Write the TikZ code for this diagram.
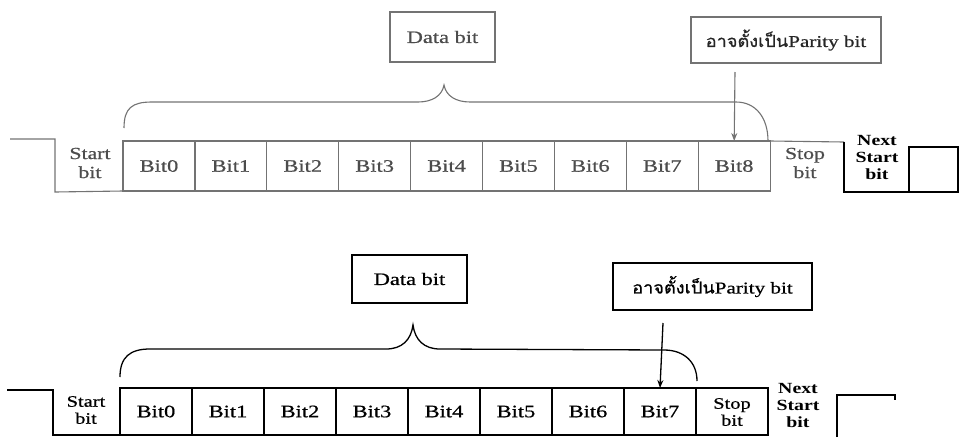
\documentclass[tikz,border=0pt]{standalone}
\usepackage{fontspec}
\setmainfont{Liberation Serif}[FakeStretch=1.28]
\newfontfamily\scanfont{Liberation Serif}[FakeStretch=1.28,FakeBold=0.7]
\newfontfamily\latinfont{Liberation Serif}[FakeStretch=1.28,FakeBold=0.7]
\newfontfamily\thaifont[Script=Thai,FakeStretch=1.1,FakeBold=0.7]{Loma}
\usetikzlibrary{arrows.meta}
\definecolor{tgline}{gray}{0.45}
\definecolor{tgtext}{gray}{0.30}
\begin{document}
\begin{tikzpicture}[x=1pt,y=-1pt,
  txt/.style={font=\scanfont\fontsize{17}{19}\selectfont, inner sep=0pt, align=center},
  nsb/.style={font=\fontsize{15.5}{17}\selectfont\bfseries, inner sep=0pt, align=center},
  bitbox/.style={draw, rectangle, anchor=north west, minimum width=72pt, inner sep=0pt,
                 outer sep=0pt, font=\scanfont\fontsize{17.5}{19}\selectfont},
  topbox/.style={bitbox, draw=tgline, text=tgtext, line width=1.1pt, minimum height=50pt},
  botbox/.style={bitbox, draw=black, line width=1.3pt, minimum height=47pt},
  callout/.style={draw, rectangle, anchor=north west, inner sep=0pt, outer sep=0pt,
                  font=\scanfont\fontsize{17.5}{19}\selectfont},
  topln/.style={draw=tgline, line width=1.1pt},
  botln/.style={draw=black, line width=1.3pt},
  tip/.style={-{Stealth[length=8pt,width=6pt]}},
]
\useasboundingbox (0,0) rectangle (961,437);

% ================= TOP (grey) =================
\foreach \i in {0,...,8}{
  \node[topbox] (b\i) at ({123+71.9*\i},141) {Bit\i};
}
\node[txt, text=tgtext] (tstart) at (90,163) {Start\\bit};
\node[txt, text=tgtext] (tstop) at (805,163) {Stop\\bit};
\node[nsb] (tnext) at (877,157) {Next\\Start\\bit};

\coordinate (tw0) at (10,139);
\coordinate (tw1) at (55,139);
\coordinate (tw2) at (55,192);
\draw[topln] (tw0) -- (tw1) -- (tw2) -- (b0.south west);

\coordinate (ts1) at (844,142);
\coordinate (ts2) at (844,192);
\coordinate (ts3) at (909,192);
\coordinate (ts4) at (909,147);
\coordinate (ts5) at (958,192);
\draw[topln] (b8.north east) -- (ts1);
\draw[line width=1.2pt] (ts1) -- (ts2) -- (ts3);
\draw[line width=1.2pt] (ts4) rectangle (ts5);

\node[callout, draw=tgline, text=tgtext, line width=1.1pt, minimum width=105pt, minimum height=50pt]
  (tdata) at (390,12) {Data bit};
\node[callout, draw=tgline, text=black!85, line width=1.1pt, minimum width=190pt, minimum height=46pt]
  (tpar) at (691,17) {{\thaifont\fontsize{16.5}{19}\selectfont อาจตั้งเป็น}{\latinfont\fontsize{16.5}{19}\selectfont Parity bit}};

% brace
\coordinate (tbl) at (124,128);
\coordinate (tbp) at (444,85);
\coordinate (tbr) at (768,141);
\draw[topln] (tbl) .. controls (124,108) and (132,102) .. (152,102)
  -- (418,102) .. controls (432,102) and (442,96) .. (tbp)
  .. controls (446,96) and (456,102) .. (470,102)
  -- (736,102) .. controls (756,102) and (768,118) .. (tbr);

\coordinate (tpa) at (735,72);
\draw[topln, tip, fill=tgline] (tpa) -- (b8.north);

% ================= BOTTOM (black) =================
\foreach \i in {0,...,7}{
  \node[botbox] (c\i) at ({120+72*\i},388) {Bit\i};
}
\node[botbox] (cstop) at (696,388) {};
\node[txt, font=\scanfont\fontsize{16}{17}\selectfont] (bstop) at (732,412) {Stop\\bit};
\node[txt, font=\scanfont\fontsize{16}{17}\selectfont] (bstart) at (86,410) {Start\\bit};
\node[nsb] (bnext) at (798,405) {Next\\Start\\bit};

\coordinate (bw0) at (7,390);
\coordinate (bw1) at (53,390);
\coordinate (bw2) at (53,435);
\draw[botln] (bw0) -- (bw1) -- (bw2) -- (c0.south west);

\coordinate (bn1) at (837,437);
\coordinate (bn2) at (837,395);
\coordinate (bn3) at (895,395);
\coordinate (bn4) at (895,400);
\draw[botln] (bn1) -- (bn2) -- (bn3) -- (bn4);

\node[callout, line width=1.3pt, minimum width=115pt, minimum height=48pt]
  (bdata) at (352,255) {Data bit};
\node[callout, line width=1.3pt, minimum width=199pt, minimum height=47pt]
  (bpar) at (613,263) {{\thaifont\fontsize{16.5}{19}\selectfont อาจตั้งเป็น}{\latinfont\fontsize{16.5}{19}\selectfont Parity bit}};

\coordinate (bbl) at (120,377);
\coordinate (bbp) at (413,325);
\coordinate (bbr) at (697,381);
\draw[botln] (bbl) .. controls (120,357) and (130,349) .. (150,349)
  -- (386,349) .. controls (402,349) and (411,340) .. (bbp)
  .. controls (415,340) and (424,349) .. (440,349)
  -- (664,350) .. controls (684,350) and (697,362) .. (bbr);

\coordinate (bpa) at (663,323);
\draw[botln, tip, fill=black] (bpa) -- (c7.north);
\end{tikzpicture}
\end{document}
